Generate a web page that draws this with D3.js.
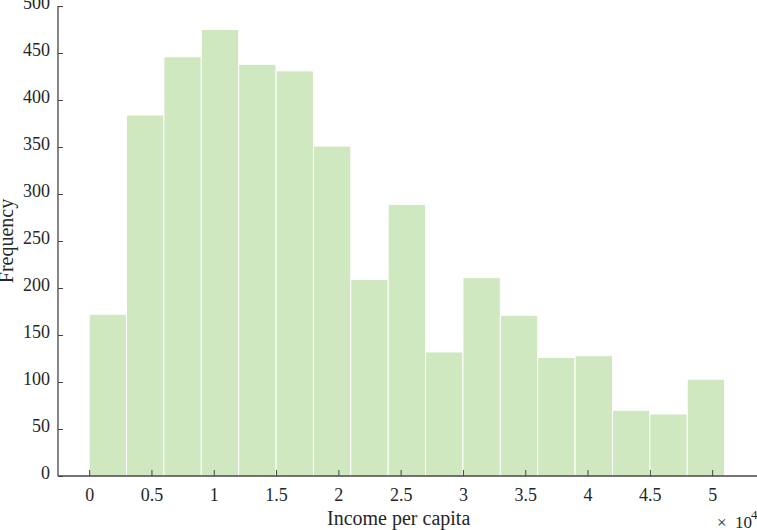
<!DOCTYPE html>
<html>
<head>
<meta charset="utf-8">
<script src="https://cdn.jsdelivr.net/npm/d3@7"></script>
<style>
  html, body { margin: 0; padding: 0; background: #fff; }
  svg { display: block; }
  text { font-family: "Liberation Serif", "Times New Roman", serif; fill: #262626; }
</style>
</head>
<body>
<svg id="chart" width="757" height="530"></svg>
<script>
// Histogram bins (income per capita), bin width 3000
const binEdges = [0, 3000, 6000, 9000, 12000, 15000, 18000, 21000, 24000, 27000,
                  30000, 33000, 36000, 39000, 42000, 45000, 48000, 51000];
const counts = [172, 384, 446, 475, 438, 431, 351, 209, 289, 132, 211, 171, 126, 128, 70, 66, 103];
const xTicks = [0, 5000, 10000, 15000, 20000, 25000, 30000, 35000, 40000, 45000, 50000];
const xTickLabels = ["0", "0.5", "1", "1.5", "2", "2.5", "3", "3.5", "4", "4.5", "5"];
const yTicks = [0, 50, 100, 150, 200, 250, 300, 350, 400, 450, 500];
const xLabel = "Income per capita";
const yLabel = "Frequency";

const svg = d3.select("#chart");
const pLeft = 58, pRight = 757, pTop = 6, pBottom = 476;

const x = d3.scaleLinear().domain([-2500, 53600]).range([pLeft, pRight]);
const y = d3.scaleLinear().domain([0, 500]).range([pBottom, pTop]);

const bins = counts.map((c, i) => ({ x0: binEdges[i], x1: binEdges[i + 1], n: c }));

svg.append("g").selectAll("rect").data(bins).join("rect")
  .attr("x", d => x(d.x0))
  .attr("y", d => y(d.n))
  .attr("width", d => x(d.x1) - x(d.x0))
  .attr("height", d => y(0) - y(d.n))
  .attr("fill", "#cfe8c0")
  .attr("stroke", "#ffffff")
  .attr("stroke-width", 1);

const axisColor = "#444";

// X axis
const xAxis = d3.axisBottom(x).tickValues(xTicks)
  .tickFormat((d, i) => xTickLabels[i]).tickSizeInner(-6).tickSizeOuter(0).tickPadding(12);
const gx = svg.append("g").attr("transform", `translate(0,${pBottom})`).call(xAxis);
gx.select(".domain").remove();
gx.append("line").attr("x1", pLeft).attr("x2", pRight).attr("y1", 0).attr("y2", 0)
  .attr("stroke", axisColor).attr("stroke-width", 1.3);
gx.selectAll(".tick line").attr("stroke", axisColor).attr("stroke-width", 1);
gx.selectAll(".tick text").attr("font-size", 18).attr("fill", "#262626");

// Y axis
const yAxis = d3.axisLeft(y).tickValues(yTicks).tickSizeInner(-5).tickSizeOuter(0).tickPadding(8);
const gy = svg.append("g").attr("transform", `translate(${pLeft},0)`).call(yAxis);
gy.select(".domain").remove();
gy.append("line").attr("x1", 0).attr("x2", 0).attr("y1", pTop).attr("y2", pBottom)
  .attr("stroke", axisColor).attr("stroke-width", 1.3);
gy.selectAll(".tick line").attr("stroke", axisColor).attr("stroke-width", 1);
gy.selectAll(".tick text").attr("font-size", 18).attr("fill", "#262626").attr("dy", "0.16em");

// Axis labels
svg.append("text")
  .attr("x", (x(0) + x(50000)) / 2 - 2).attr("y", 525)
  .attr("text-anchor", "middle").attr("font-size", 20).text(xLabel);

svg.append("text")
  .attr("transform", `translate(13,${(pTop + pBottom) / 2}) rotate(-90)`)
  .attr("text-anchor", "middle").attr("font-size", 20).text(yLabel);

// Exponent label (x10^4)
svg.append("text").attr("x", 717).attr("y", 528).attr("font-size", 17).text("\u00d7");
svg.append("text").attr("x", 752).attr("y", 528).attr("font-size", 17)
  .attr("text-anchor", "end").text("10");
svg.append("text").attr("x", 751).attr("y", 519).attr("font-size", 13).text("4");
</script>
</body>
</html>
